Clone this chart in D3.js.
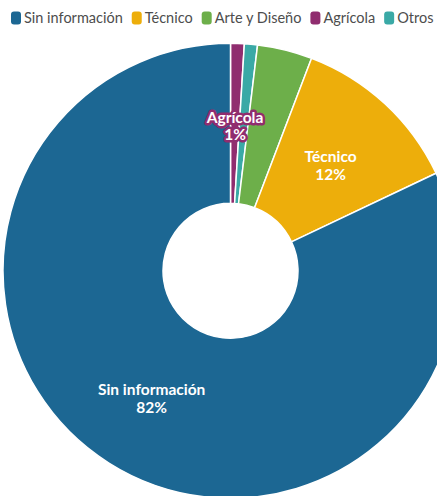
<!DOCTYPE html>
<html>
<head>
<meta charset="UTF-8">
<script src="https://cdn.jsdelivr.net/npm/d3@7"></script>
<style>
  html, body { margin: 0; padding: 0; background: #fff; }
  svg { display: block; font-family: Lato, "Open Sans", sans-serif; }
</style>
</head>
<body>
<svg></svg>
<script>
  const width = 437;
  const height = 496;

  // legend order
  const categories = ["Sin información", "Técnico", "Arte y Diseño", "Agrícola", "Otros"];
  const colors = ["#1c6793", "#edae0b", "#6daf4a", "#902d6f", "#3aa9a6"];
  // share of each category (%)
  const values = [82.05, 12.15, 3.9, 0.97, 0.93];
  // slice order, clockwise from the top
  const sliceOrder = ["Agrícola", "Otros", "Arte y Diseño", "Técnico", "Sin información"];
  // categories that carry a label
  const labelled = ["Sin información", "Técnico", "Agrícola"];

  const data = sliceOrder.map(name => {
    const i = categories.indexOf(name);
    return {name, value: values[i], color: colors[i]};
  });

  const cx = 230.5, cy = 270.8;
  const outer = 227.5, inner = 67.5;

  const svg = d3.select("svg")
      .attr("width", width)
      .attr("height", height)
      .attr("viewBox", [0, 0, width, height]);

  const pie = d3.pie()
      .sort(null)
      .value(d => d.value);

  const arc = d3.arc()
      .innerRadius(inner)
      .outerRadius(outer);

  const arcs = pie(data);
  const total = d3.sum(values);

  const g = svg.append("g")
      .attr("transform", `translate(${cx},${cy})`);

  g.selectAll("path")
    .data(arcs)
    .join("path")
      .attr("d", arc)
      .attr("fill", d => d.data.color)
      .attr("stroke", "#fff")
      .attr("stroke-width", 1.5)
      .attr("stroke-linejoin", "round");

  const labels = g.append("g")
      .attr("text-anchor", "middle")
      .attr("font-size", 15.5)
      .attr("font-weight", "bold")
    .selectAll("text")
    .data(arcs.filter(d => labelled.includes(d.data.name)))
    .join("text")
      .attr("transform", d => `translate(${arc.centroid(d)})`)
      .attr("fill", "#fff")
      .attr("stroke", d => d.data.color)
      .attr("stroke-width", 5)
      .attr("stroke-linejoin", "round")
      .attr("paint-order", "stroke");

  labels.append("tspan")
      .attr("x", 0)
      .attr("y", "0em")
      .text(d => d.data.name);

  labels.append("tspan")
      .attr("x", 0)
      .attr("y", "1.1em")
      .text(d => Math.round(d.data.value / total * 100) + "%");

  // legend
  const legend = svg.append("g")
      .attr("font-size", 14.5)
      .attr("fill", "#4d4d4d");

  let lx = 11;
  categories.forEach((name, i) => {
    const item = legend.append("g").attr("transform", `translate(${lx},0)`);
    item.append("rect")
        .attr("x", 0)
        .attr("y", 11.5)
        .attr("width", 10)
        .attr("height", 13)
        .attr("rx", 3)
        .attr("fill", colors[i]);
    const t = item.append("text")
        .attr("x", 13)
        .attr("y", 23)
        .text(name);
    lx += 13 + t.node().getComputedTextLength() + 9;
  });
</script>
</body>
</html>
